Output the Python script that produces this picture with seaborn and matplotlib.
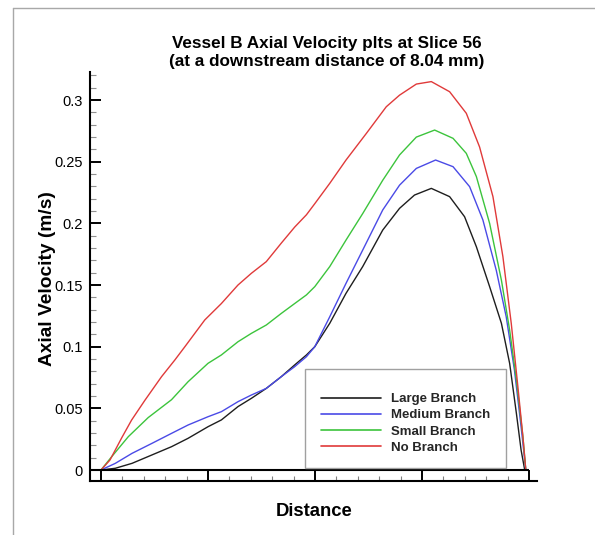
import numpy as np
import pandas as pd
import matplotlib
matplotlib.use("Agg")
import matplotlib.pyplot as plt
from matplotlib.ticker import MultipleLocator, FixedLocator
from matplotlib.lines import Line2D
from matplotlib.patches import Rectangle
import seaborn as sns

# Axial velocity profiles across the vessel (distance in arbitrary units, 0-4)
large_x = [0.0, 0.134, 0.29, 0.476, 0.659, 0.814, 1.0, 1.125, 1.28, 1.405, 1.545, 1.685,
           1.81, 1.92, 1.998, 2.138, 2.29, 2.446, 2.633, 2.79, 2.93, 3.087, 3.258, 3.398,
           3.508, 3.632, 3.742, 3.819, 3.882, 3.926, 3.96]
large_v = [0.0, 0.0014, 0.0054, 0.0122, 0.0189, 0.0257, 0.0351, 0.0406, 0.0514, 0.0581,
           0.0662, 0.0757, 0.0852, 0.0933, 0.100, 0.119, 0.1433, 0.165, 0.1946, 0.2122,
           0.223, 0.2284, 0.2217, 0.2054, 0.1811, 0.1487, 0.119, 0.0865, 0.046, 0.0162, 0.0]

medium_x = [0.0, 0.134, 0.29, 0.476, 0.659, 0.814, 1.0, 1.125, 1.28, 1.405, 1.545, 1.685,
            1.81, 1.92, 1.998, 2.138, 2.29, 2.446, 2.633, 2.79, 2.947, 3.127, 3.29, 3.445,
            3.569, 3.694, 3.787, 3.864, 3.926, 3.97]
medium_v = [0.0, 0.0054, 0.0135, 0.0216, 0.0297, 0.0365, 0.0432, 0.0473, 0.0554, 0.0608,
            0.0662, 0.0757, 0.0838, 0.0919, 0.100, 0.1243, 0.1514, 0.1784, 0.2109, 0.231,
            0.2446, 0.2514, 0.246, 0.2298, 0.2028, 0.162, 0.1243, 0.081, 0.0351, 0.0]

small_x = [0.0, 0.1, 0.255, 0.441, 0.659, 0.814, 1.0, 1.125, 1.28, 1.405, 1.545, 1.685,
           1.81, 1.92, 1.998, 2.138, 2.29, 2.446, 2.633, 2.79, 2.947, 3.118, 3.29, 3.414,
           3.508, 3.632, 3.742, 3.819, 3.882, 3.943, 3.97]
small_v = [0.0, 0.0108, 0.027, 0.0425, 0.057, 0.0716, 0.0865, 0.0933, 0.104, 0.1108,
           0.1176, 0.127, 0.135, 0.142, 0.1487, 0.165, 0.1865, 0.208, 0.235, 0.2555,
           0.270, 0.2757, 0.269, 0.2568, 0.238, 0.200, 0.154, 0.1135, 0.073, 0.027, 0.0]

none_x = [0.0, 0.084, 0.193, 0.286, 0.41, 0.566, 0.69, 0.784, 0.97, 1.125, 1.28, 1.405,
          1.545, 1.685, 1.81, 1.92, 1.998, 2.138, 2.29, 2.48, 2.666, 2.79, 2.947, 3.087,
          3.258, 3.414, 3.538, 3.663, 3.756, 3.834, 3.896, 3.943, 3.97]
none_v = [0.0, 0.0081, 0.026, 0.0405, 0.0565, 0.0757, 0.0892, 0.100, 0.1217, 0.135,
          0.150, 0.1595, 0.169, 0.184, 0.197, 0.207, 0.216, 0.2325, 0.2514, 0.273,
          0.2946, 0.304, 0.313, 0.315, 0.3068, 0.2893, 0.262, 0.2217, 0.173, 0.119,
          0.0676, 0.027, 0.0]

series_names = ["Large Branch", "Medium Branch", "Small Branch", "No Branch"]
series_colors = ["#1e1e1e", "#4a4ae6", "#3cc43c", "#e03a3a"]

y_ticks = [0, 0.05, 0.1, 0.15, 0.2, 0.25, 0.3]
y_tick_labels = ["0", "0.05", "0.1", "0.15", "0.2", "0.25", "0.3"]
x_major = [0, 1, 2, 3, 4]

title_lines = ["Vessel B Axial Velocity plts at Slice 56",
               "(at a downstream distance of 8.04 mm)"]

frames = []
for name, xs, vs in zip(series_names,
                        [large_x, medium_x, small_x, none_x],
                        [large_v, medium_v, small_v, none_v]):
    frames.append(pd.DataFrame({"Distance": xs, "Velocity": vs, "Branch": name}))
df = pd.concat(frames, ignore_index=True)

sns.set_theme(style="white")
plt.rcParams["font.family"] = ["Liberation Sans", "DejaVu Sans"]

W, H = 595, 535
fig = plt.figure(figsize=(W / 100, H / 100), dpi=100)
fig.patch.set_facecolor("white")

# outer frame lines (left and top)
fig.add_artist(Line2D([13 / W, 13 / W], [0, 1 - 7.5 / H], color="#a8a8a8", lw=1.0))
fig.add_artist(Line2D([13 / W, 1], [1 - 7.5 / H, 1 - 7.5 / H], color="#a8a8a8", lw=1.0))

ax = fig.add_axes([90 / W, (H - 481) / H, (537 - 90) / W, (481 - 72) / H])
ax.set_facecolor("white")

sns.lineplot(data=df, x="Distance", y="Velocity", hue="Branch",
             hue_order=series_names, palette=series_colors,
             estimator=None, sort=False, linewidth=1.0, ax=ax)

px_per_x = 107.1
px_per_y = 1233.0
ax.set_xlim(-11 / px_per_x, 4 + 8 / px_per_x)
ax.set_ylim(-11 / px_per_y, 398 / px_per_y)

for side in ["top", "right"]:
    ax.spines[side].set_visible(False)
for side in ["left", "bottom"]:
    ax.spines[side].set_visible(True)
    ax.spines[side].set_color("black")
    ax.spines[side].set_linewidth(1.5)

# strip under the plot: top edge at zero velocity
ax.hlines(0, ax.get_xlim()[0], x_major[-1], color="black", lw=1.5, clip_on=False)

ax.xaxis.set_major_locator(FixedLocator(x_major))
ax.xaxis.set_minor_locator(MultipleLocator(0.2))
ax.tick_params(axis="x", which="major", direction="in", length=7.6, width=1.4,
               color="black", labelbottom=False, bottom=True)
ax.tick_params(axis="x", which="minor", direction="in", length=3.6, width=0.8,
               color="#808080", bottom=True)

ax.set_yticks(y_ticks)
ax.set_yticklabels(y_tick_labels)
ax.yaxis.set_minor_locator(MultipleLocator(0.01))
ax.tick_params(axis="y", which="major", direction="in", length=8, width=1.4,
               color="black", left=True, labelsize=10.5, pad=5.3, labelcolor="black")
ax.tick_params(axis="y", which="minor", direction="in", length=4, width=0.8,
               color="#909090", left=True)

ax.set_xlabel("")
ax.set_ylabel("")
ax.grid(False)

# legend: gray box with the entries placed inside it
handles, labels = ax.get_legend_handles_labels()
ax.get_legend().remove()
box = Rectangle((304.7 / W, 1 - 468 / H), 200.8 / W, 99.4 / H,
                transform=fig.transFigure, facecolor="white", edgecolor="#a0a0a0",
                linewidth=1.0, zorder=2)
fig.add_artist(box)
leg = fig.legend(handles, labels, loc="upper left",
                 bbox_to_anchor=(320.7 / W, 1 - 393 / H), bbox_transform=fig.transFigure,
                 borderaxespad=0, borderpad=0, prop={"weight": "bold", "size": 9.5},
                 handlelength=4.55, handletextpad=0.8, labelspacing=0.3,
                 frameon=False)
leg.set_zorder(3)
for line in leg.get_lines():
    line.set_linewidth(1.2)

fig.text(327 / W, 1 - 47.7 / H, title_lines[0], ha="center", va="baseline",
         fontsize=12.3, fontweight="bold", color="black")
fig.text(327 / W, 1 - 66 / H, title_lines[1], ha="center", va="baseline",
         fontsize=12.3, fontweight="bold", color="black")

fig.text(48 / W, 1 - 279 / H, "Axial Velocity (m/s)", rotation=90, ha="center",
         va="center", fontsize=13.8, fontweight="bold", color="black")
fig.text(314 / W, 1 - 516 / H, "Distance", ha="center", va="baseline",
         fontsize=13.3, fontweight="bold", color="black")

fig.savefig("out.png", dpi=100, facecolor="white")
